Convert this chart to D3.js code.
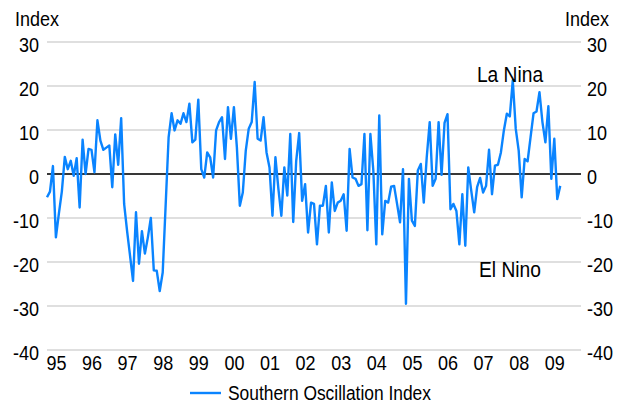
<!DOCTYPE html>
<html>
<head>
<meta charset="utf-8">
<script src="https://cdn.jsdelivr.net/npm/d3@7/dist/d3.min.js"></script>
<style>
  html, body { margin: 0; padding: 0; background: #fff; }
  svg text { font-family: "Liberation Sans", Arial, sans-serif; fill: #000; }
</style>
</head>
<body>
<svg id="chart" width="625" height="405"></svg>
<script>
// Monthly Southern Oscillation Index, Jan 1995 onward
const soiValues = [
  -5.3, -4, 1.8, -14.4, -9, -4, 3.9, 1.1, 3, -0.4, 3.6, -7.6,
  7.8, 0, 5.7, 5.5, 0.4, 12.2, 7.6, 5.5, 6, 6.5, -3, 9,
  2.1, 12.7, -6.8, -13, -18.6, -24.3, -8.7, -20.4, -13, -18.1, -14.4, -10,
  -21.9, -22, -26.6, -22.4, -7, 8.4, 13.8, 9.9, 12.2, 11.4, 13.8, 11.8,
  16, 7.2, 7.8, 16.9, 1.1, -0.8, 4.9, 3.8, -0.8, 9.9, 11.8, 12.9,
  3.4, 15.2, 8, 15.2, 6.1, -7.2, -4.2, 5.3, 10.3, 11.8, 20.9, 8,
  7.6, 12.9, 4.9, 1.5, -9.5, 3.8, -3.4, -9.5, 1.5, -4.9, 9.1, -10.9,
  3, 9.3, -6.1, -2.3, -13.3, -6.5, -6.8, -16, -7.2, -7.2, -2.7, -13.3,
  -1.9, -8.4, -6.5, -6.1, -4.6, -12.9, 5.7, -0.8, -1.1, -2.7, -2.3, 9.1,
  -12.8, 9.1, 0.8, -16, 13.3, -13.7, -6.1, -6.5, -2.9, -2.7, -6.8, -11,
  1.1, -29.5, -1.1, -10.6, -11.8, 0.8, 2.3, -6.5, 3.8, 11.8, -2.7, -1.1,
  11.8, -0.2, 11.6, 13.6, -8, -6.8, -8.4, -16, -4.6, -16.3, 1.5, -3.8,
  -8.7, -2.9, -0.9, -4.2, -2.7, 5.5, -4.6, 1.9, 2.1, 4.9, 9.9, 13.7,
  13.1, 21.3, 10.3, 5.3, -5.3, 3.4, 2.9, 8.4, 13.8, 14.2, 18.6, 11.8,
  7.2, 15.4, -1.1, 8, -5.7, -2.7
];
const yearLabels = ["95","96","97","98","99","00","01","02","03","04","05","06","07","08","09"];
const yTicks = [30, 20, 10, 0, -10, -20, -30, -40];
const seriesName = "Southern Oscillation Index";
const phaseLabels = [{ text: "La Nina", value: 20.9 }, { text: "El Nino", value: -23.5 }];

const svg = d3.select("#chart");
const plotLeft = 47, plotRight = 581, plotTop = 42, plotBottom = 350;
const monthsShown = yearLabels.length * 12;
const stretch = 1.16;     // tall, condensed lettering
const tickFont = 18;

const x = d3.scaleLinear().domain([0, monthsShown]).range([plotLeft, plotRight]);
const y = d3.scaleLinear().domain([-40, 30]).range([plotBottom, plotTop]);

// places a text so its baseline sits at (tx, ty), stretched vertically
function tallText(sel, tx, ty) {
  sel.attr("x", null).attr("y", null).attr("dy", null)
     .attr("transform", `translate(${tx},${ty}) scale(1,${stretch})`);
}
const capHalf = size => 0.358 * size * stretch;

// horizontal gridlines
svg.append("g")
  .selectAll("line").data(yTicks).join("line")
  .attr("x1", plotLeft).attr("x2", plotRight)
  .attr("y1", d => y(d)).attr("y2", d => y(d))
  .attr("stroke", "#d4d4d4").attr("stroke-width", 1.5);

// zero line
svg.append("line")
  .attr("x1", plotLeft).attr("x2", plotRight)
  .attr("y1", y(0)).attr("y2", y(0))
  .attr("stroke", "#000").attr("stroke-width", 1.3);

// left and right value axes
const fmt = d => String(d);
const gl = svg.append("g").attr("transform", `translate(${plotLeft},0)`)
  .call(d3.axisLeft(y).tickValues(yTicks).tickFormat(fmt).tickSize(0));
const gr = svg.append("g").attr("transform", `translate(${plotRight},0)`)
  .call(d3.axisRight(y).tickValues(yTicks).tickFormat(fmt).tickSize(0));
[gl, gr].forEach(g => {
  g.select(".domain").remove();
  g.attr("font-family", null).attr("font-size", null);
  g.selectAll("text").attr("font-size", tickFont);
});
gl.selectAll("text").call(tallText, -8, capHalf(tickFont) + 2);
gr.selectAll("text").call(tallText, 6, capHalf(tickFont) + 2);

// year labels along the bottom
const gx = svg.append("g").attr("transform", `translate(0,${plotBottom})`)
  .call(d3.axisBottom(x)
    .tickValues(yearLabels.map((d, i) => i * 12 + 3))
    .tickFormat((d, i) => yearLabels[i])
    .tickSize(0));
gx.select(".domain").remove();
gx.attr("font-family", null).attr("font-size", null);
gx.selectAll("text").attr("font-size", tickFont).call(tallText, 0, 13 + capHalf(tickFont));

// axis titles
svg.append("text").attr("font-size", 18).text("Index").call(tallText, 15, 26);
svg.append("text").attr("font-size", 18).attr("text-anchor", "end").text("Index").call(tallText, 609, 26);

// SOI line
const line = d3.line().x((d, i) => x(i)).y(d => y(d));
svg.append("path").datum(soiValues)
  .attr("d", line).attr("fill", "none")
  .attr("stroke", "#0a84ff").attr("stroke-width", 2.4)
  .attr("stroke-linejoin", "round");

// phase annotations
svg.selectAll(".phase").data(phaseLabels).join("text")
  .attr("class", "phase")
  .attr("text-anchor", "middle").attr("font-size", 19.2)
  .text(d => d.text)
  .each(function (d) { d3.select(this).call(tallText, 510, y(d.value)); });

// legend
svg.append("line").attr("x1", 190).attr("x2", 221).attr("y1", 393).attr("y2", 393)
  .attr("stroke", "#0a84ff").attr("stroke-width", 2.4);
svg.append("text").attr("font-size", 17.4).text(seriesName).call(tallText, 228, 400);
</script>
</body>
</html>
